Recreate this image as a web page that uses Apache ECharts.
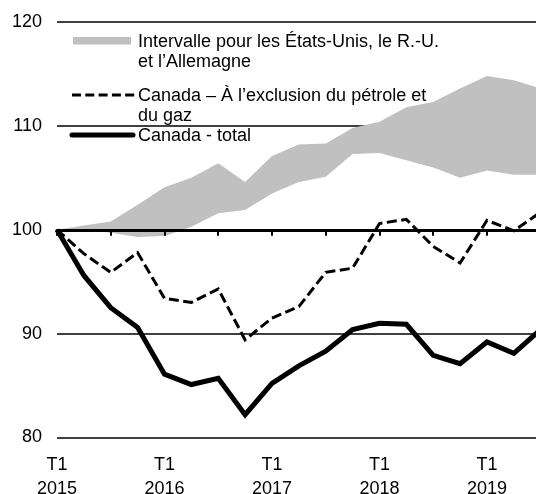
<!DOCTYPE html>
<html>
<head>
<meta charset="utf-8">
<script src="https://cdn.jsdelivr.net/npm/echarts@6/dist/echarts.min.js"></script>
<style>
  html, body { margin: 0; padding: 0; background: #fff; }
  #chart { width: 536px; height: 494px; }
</style>
</head>
<body>
<div id="chart"></div>
<script>
// quarters, 2015 T1 .. 2019 T3
const categories = [
  'T1\n2015', 'T2\n2015', 'T3\n2015', 'T4\n2015',
  'T1\n2016', 'T2\n2016', 'T3\n2016', 'T4\n2016',
  'T1\n2017', 'T2\n2017', 'T3\n2017', 'T4\n2017',
  'T1\n2018', 'T2\n2018', 'T3\n2018', 'T4\n2018',
  'T1\n2019', 'T2\n2019', 'T3\n2019'
]
// range for US, UK and Germany
const bandLower = [100, 100.0, 99.7, 99.3, 99.4, 100.3, 101.6, 101.9, 103.5, 104.6, 105.1, 107.3, 107.4, 106.7, 106.0, 105.0, 105.7, 105.3, 105.3]
const bandUpper = [100, 100.4, 100.8, 102.4, 104.1, 105.0, 106.4, 104.6, 107.1, 108.2, 108.3, 109.8, 110.4, 111.8, 112.3, 113.6, 114.8, 114.4, 113.6]
const canadaExOil = [100, 97.7, 95.9, 97.8, 93.4, 93.0, 94.3, 89.4, 91.5, 92.6, 95.9, 96.3, 100.6, 101.0, 98.4, 96.8, 100.9, 99.9, 101.7]
const canadaTotal = [100, 95.6, 92.5, 90.6, 86.1, 85.1, 85.7, 82.2, 85.2, 86.9, 88.3, 90.4, 91.0, 90.9, 87.9, 87.1, 89.2, 88.1, 90.4]
const yTicks = [80, 90, 100, 110, 120]

const legendNames = [
  'Intervalle pour les États-Unis, le R.-U.\net l’Allemagne',
  'Canada – À l’exclusion du pétrole et\ndu gaz',
  'Canada - total'
]

const FONT = '"Liberation Sans", Arial, sans-serif'
const bandWidth = bandUpper.map((v, i) => +(v - bandLower[i]).toFixed(2))

const chart = echarts.init(document.getElementById('chart'), null, { renderer: 'canvas' })

const gridTop = 22
const gridBottom = 56.5
const gridHeight = 494 - gridTop - gridBottom

chart.setOption({
  backgroundColor: '#fff',
  animation: false,
  grid: [{
    left: 57,
    right: -4.7,
    top: gridTop,
    bottom: gridBottom,
    containLabel: false,
    outerBoundsMode: 'none'
  }, {
    // upper half only, its bottom axis sits on the 100 level
    left: 57,
    right: -4.7,
    top: gridTop,
    bottom: gridBottom + gridHeight / 2,
    containLabel: false,
    outerBoundsMode: 'none'
  }],
  xAxis: [{
    type: 'category',
    data: categories,
    boundaryGap: false,
    position: 'bottom',
    axisLine: { show: false },
    axisTick: { show: false },
    axisLabel: {
      interval: 3,
      color: '#000',
      fontSize: 18,
      fontFamily: FONT,
      lineHeight: 24,
      margin: 16
    },
    splitLine: { show: false }
  }, {
    // quarter index axis, a tick every second quarter
    gridIndex: 1,
    type: 'value',
    min: 0,
    max: categories.length - 1,
    interval: 2,
    position: 'bottom',
    z: 3,
    axisLine: { show: true, onZero: false, lineStyle: { color: '#000', width: 3 } },
    axisTick: { show: true, inside: false, length: 6, lineStyle: { color: '#000', width: 2 } },
    axisLabel: { show: false },
    splitLine: { show: false }
  }],
  yAxis: [{
    type: 'value',
    min: yTicks[0],
    max: yTicks[yTicks.length - 1],
    interval: 10,
    axisLine: { show: false },
    axisTick: { show: false },
    axisLabel: { color: '#000', fontSize: 18, fontFamily: FONT, margin: 15 },
    splitLine: { lineStyle: { color: '#000', width: 1.5 } }
  }, {
    gridIndex: 1,
    type: 'value',
    min: 0,
    max: 1,
    show: false
  }],
  series: [{
    name: 'bas',
    type: 'line',
    data: bandLower,
    stack: 'band',
    symbol: 'none',
    silent: true,
    lineStyle: { width: 0, opacity: 0 },
    z: 2
  }, {
    name: legendNames[0],
    type: 'line',
    data: bandWidth,
    stack: 'band',
    symbol: 'none',
    silent: true,
    lineStyle: { width: 0, opacity: 0 },
    areaStyle: { color: '#c0c0c0', opacity: 1 },
    z: 2
  }, {
    name: legendNames[1],
    type: 'line',
    data: canadaExOil,
    symbol: 'none',
    lineStyle: { color: '#000', width: 3, type: [10, 4.5], join: 'miter' },
    z: 4
  }, {
    name: legendNames[2],
    type: 'line',
    data: canadaTotal,
    symbol: 'none',
    lineStyle: { color: '#000', width: 5, join: 'miter' },
    z: 5
  }],
  graphic: [
    { type: 'rect', shape: { x: 73, y: 37, width: 58, height: 7.5 }, style: { fill: '#c0c0c0' } },
    {
      type: 'text', x: 138, y: 32,
      style: { text: legendNames[0], fontSize: 18, fontFamily: FONT, lineHeight: 20, fill: '#000', verticalAlign: 'top' }
    },
    {
      type: 'line', shape: { x1: 72, y1: 95, x2: 135, y2: 95 },
      style: { stroke: '#000', lineWidth: 3, lineDash: [9, 4.3] }
    },
    {
      type: 'text', x: 138, y: 86,
      style: { text: legendNames[1], fontSize: 18, fontFamily: FONT, lineHeight: 20, fill: '#000', verticalAlign: 'top' }
    },
    {
      type: 'line', shape: { x1: 72, y1: 135, x2: 133, y2: 135 },
      style: { stroke: '#000', lineWidth: 5, lineCap: 'round' }
    },
    {
      type: 'text', x: 138, y: 126,
      style: { text: legendNames[2], fontSize: 18, fontFamily: FONT, lineHeight: 20, fill: '#000', verticalAlign: 'top' }
    }
  ]
})
</script>
</body>
</html>
